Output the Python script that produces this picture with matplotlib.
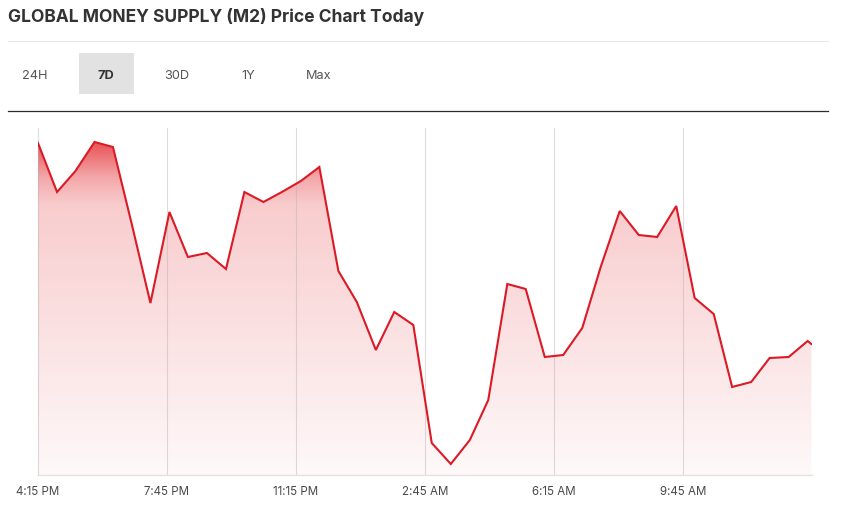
import matplotlib
matplotlib.use('Agg')
import matplotlib.pyplot as plt
from matplotlib.colors import LinearSegmentedColormap
from matplotlib.patches import Polygon, Rectangle
from matplotlib.lines import Line2D
import numpy as np

W = 842
H = 506

tabs = ['24H', '7D', '30D', '1Y', 'Max']
tick_labels = ['4:15 PM', '7:45 PM', '11:15 PM', '2:45 AM', '6:15 AM', '9:45 AM']
tick_minutes = [0, 210, 420, 630, 840, 1050]

# minutes since 4:15 PM
minutes = [0, 31, 61, 92, 122, 153, 183, 214, 244, 275, 306, 336, 367, 397, 428,
           458, 489, 519, 550, 580, 611, 641, 672, 703, 733, 764, 794, 825, 855,
           886, 916, 947, 978, 1008, 1039, 1069, 1100, 1130, 1161, 1191, 1222,
           1253, 1259]
# price, only relative since the chart has no y labels
price = [332, 283, 304, 333, 328, 250, 172, 263, 218, 222, 206, 283, 273, 283,
         294, 308, 204, 173, 125, 163, 150, 32, 11, 35, 75, 191, 186, 118, 120,
         147, 208, 264, 240, 238, 269, 177, 161, 88, 93, 117, 118, 134, 131]

plt.rcParams['font.family'] = ['Inter', 'DejaVu Sans']

fig = plt.figure(figsize=(W / 100, H / 100), dpi=100)
ax = fig.add_axes([38 / W, 1 - 476 / H, 774 / W, 347 / H])
ax.set_xlim(0, 1260)
ax.set_ylim(0, 347)


def fx(x):
    return x / W


def fy(y):
    return 1 - y / H


# gradient under the line, strong at the top and fading quickly
red = (0.89, 0.13, 0.15)
stops = [(0.0, red + (0.03,)),
         (0.55, red + (0.17,)),
         (0.78, red + (0.23,)),
         (0.86, red + (0.40,)),
         (0.96, red + (0.78,)),
         (1.0, red + (0.88,))]
cmap = LinearSegmentedColormap.from_list('fade', stops)
grad = np.linspace(1, 0, 256).reshape(-1, 1)
img = ax.imshow(grad, cmap=cmap, vmin=0, vmax=1, aspect='auto',
                extent=[0, 1260, 0, 347], zorder=1)
poly = Polygon(list(zip(minutes, price)) + [(minutes[-1], 0), (0, 0)],
               closed=True, transform=ax.transData, fc='none', ec='none')
ax.add_patch(poly)
img.set_clip_path(poly)

for m in tick_minutes:
    ax.axvline(m, color='#b8b0b0', lw=0.8, alpha=0.45, zorder=2, clip_on=False)

ax.plot(minutes, price, color='#db1a26', lw=1.5, zorder=3, solid_joinstyle='miter')

for s in ['top', 'right', 'left']:
    ax.spines[s].set_visible(False)
ax.spines['bottom'].set_color('#e6e0e0')
ax.spines['bottom'].set_linewidth(1)
ax.set_yticks([])
ax.set_xticks(tick_minutes)
ax.set_xticklabels(tick_labels, fontsize=8.3, color='#4a4a4a')
ax.tick_params(axis='x', length=0, pad=7)

# header
fig.text(fx(8), fy(16.5), 'GLOBAL MONEY SUPPLY (M2) Price Chart Today', fontsize=12.55,
         fontweight='bold', color='#333333', va='center', ha='left')
fig.add_artist(Line2D([fx(8), fx(828)], [fy(41.5), fy(41.5)], color='#e8e8e8', lw=0.8))
fig.add_artist(Line2D([fx(8), fx(828)], [fy(111.5), fy(111.5)], color='#2b2b2b', lw=0.9))
fig.add_artist(Rectangle((fx(79), fy(95)), 55 / W, 41 / H, color='#e2e2e2', lw=0,
                         transform=fig.transFigure))

tab_x = [35, 106, 177, 248, 319]
for label, x in zip(tabs, tab_x):
    active = label == '7D'
    fig.text(fx(x), fy(76), label, fontsize=9.2, ha='center', va='center',
             color='#333333' if active else '#555555',
             fontweight='bold' if active else 'normal')

fig.savefig('out.png', dpi=100)
